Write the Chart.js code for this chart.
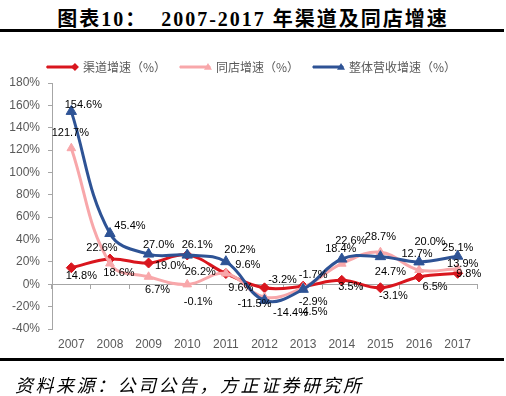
<!DOCTYPE html>
<html>
<head>
<meta charset="utf-8">
<script src="https://cdn.jsdelivr.net/npm/chart.js@4.4.0/dist/chart.umd.min.js"></script>
<style>
  html, body { margin: 0; padding: 0; background: #fff; }
  #wrap { position: relative; width: 506px; height: 396px; overflow: hidden; }
  #title {
    position: absolute; left: 0; top: 3px; width: 506px; line-height: 24px;
    text-align: center; white-space: pre; color: #000;
    font: bold 20px "Liberation Serif", "Noto Sans CJK SC", serif; letter-spacing: 2px;
  }
  .rule { position: absolute; left: 0; width: 504px; height: 3px; background: #000; }
  #src {
    position: absolute; left: 15px; top: 371px; line-height: 22px; color: #000;
    font: italic 18px "Noto Sans CJK SC", sans-serif; letter-spacing: 2.5px;
  }
  #chart { position: absolute; left: 0; top: 0; }
</style>
</head>
<body>
<div id="wrap">
  <div id="title">图表10：  2007-2017 年渠道及同店增速</div>
  <div class="rule" style="top:29px"></div>
  <canvas id="chart" width="506" height="396"></canvas>
  <div class="rule" style="top:358px"></div>
  <div id="src">资料来源：公司公告，方正证券研究所</div>
</div>
<script>
const years = ["2007","2008","2009","2010","2011","2012","2013","2014","2015","2016","2017"];

// 增速 (%)
const channelGrowth = [14.8, 22.6, 19.0, 26.2, 9.6, -3.2, -1.7, 3.5, -3.1, 6.5, 9.8];
const sameStoreGrowth = [121.7, 18.6, 6.7, -0.1, 9.6, -11.5, -2.9, 18.4, 28.7, 12.7, 13.9];
const totalGrowth = [154.6, 45.4, 27.0, 26.1, 20.2, -14.4, -4.5, 22.6, 24.7, 20.0, 25.1];

const yTicks = { min: -40, max: 180, step: 20 };

// where each value label sits relative to its point
const channelShift = [[10,8],[-8,-11],[22,3],[13,17],[22,-9],[18,-8],[10,-11],[9,7],[13,8],[16,10],[11,1]];
const sameStoreShift = [[-1,-15],[9,9],[9,13],[11,18],[15,14],[-10,7],[10,14],[-1,-15],[0,-15],[-2,-16],[5,-5]];
const totalShift = [[12,-6],[20,-8],[10,-9],[10,-10],[14,-12],[26,13],[10,23],[9,-18],[10,15],[11,-20],[0,-8]];

const RED = '#D9161E', PINK = '#F8A7AA', BLUE = '#2E5395';
const GREY = '#595959', AXIS = '#A6A6A6';
const NUM_FONT = '"Liberation Sans Narrow", "Liberation Sans", Arial, sans-serif';
const LEGEND_SHIFT = 13;

const valueLabels = {
  id: 'valueLabels',
  afterDatasetsDraw(chart) {
    const ctx = chart.ctx;
    ctx.save();
    ctx.font = '11px ' + NUM_FONT;
    ctx.fillStyle = '#000';
    ctx.textAlign = 'center';
    ctx.textBaseline = 'middle';
    chart.data.datasets.forEach((ds, i) => {
      const meta = chart.getDatasetMeta(i);
      meta.data.forEach((pt, j) => {
        const s = ds.labelShift[j];
        ctx.fillText(ds.data[j].toFixed(1) + '%', pt.x + s[0], pt.y + s[1]);
      });
    });
    ctx.restore();
  }
};

// legend sits a bit right of the canvas centre in the original; markers on legend lines
const legendTweak = {
  id: 'legendTweak',
  afterLayout(chart) {
    const lg = chart.legend;
    if (!lg) return;
    lg.left += LEGEND_SHIFT;
    lg.right += LEGEND_SHIFT;
  },
  afterDraw(chart) {
    const lg = chart.legend;
    if (!lg || !lg.legendHitBoxes) return;
    const ctx = chart.ctx;
    lg.legendItems.forEach((item, k) => {
      const hb = lg.legendHitBoxes[k];
      const ds = chart.data.datasets[item.datasetIndex];
      const x = hb.left + LEGEND_SHIFT + 15, y = hb.top + hb.height / 2;
      const r = 4;
      ctx.save();
      ctx.fillStyle = ds.borderColor;
      ctx.beginPath();
      if (ds.pointStyle === 'rectRot') {
        ctx.moveTo(x, y - r); ctx.lineTo(x + r, y); ctx.lineTo(x, y + r); ctx.lineTo(x - r, y);
      } else {
        ctx.moveTo(x, y - r); ctx.lineTo(x + r, y + r * 0.7); ctx.lineTo(x - r, y + r * 0.7);
      }
      ctx.closePath();
      ctx.fill();
      ctx.restore();
    });
  }
};

const ctx = document.getElementById('chart');

new Chart(ctx, {
  type: 'line',
  data: {
    labels: years,
    datasets: [
      {
        label: '渠道增速（%）',
        data: channelGrowth,
        labelShift: channelShift,
        borderColor: RED,
        backgroundColor: RED,
        borderWidth: 3,
        pointStyle: 'rectRot',
        pointRadius: 5,
        pointBorderWidth: 1,
        tension: 0.4,
        order: 3
      },
      {
        label: '同店增速（%）',
        data: sameStoreGrowth,
        labelShift: sameStoreShift,
        borderColor: PINK,
        backgroundColor: PINK,
        borderWidth: 3,
        pointStyle: 'triangle',
        pointRadius: 5,
        pointBorderWidth: 1,
        tension: 0.4,
        order: 2
      },
      {
        label: '整体营收增速（%）',
        data: totalGrowth,
        labelShift: totalShift,
        borderColor: BLUE,
        backgroundColor: BLUE,
        borderWidth: 3,
        pointStyle: 'triangle',
        pointRadius: 6,
        pointBorderWidth: 1,
        tension: 0.4,
        order: 1
      }
    ]
  },
  options: {
    responsive: false,
    animation: false,
    layout: { padding: { top: 47, right: 29, bottom: 37, left: 0 } },
    plugins: {
      tooltip: { enabled: false },
      legend: {
        position: 'top',
        labels: {
          boxWidth: 30,
          boxHeight: 2,
          padding: 14,
          color: GREY,
          font: { size: 12, family: '"Noto Sans CJK SC", sans-serif' },
          sort: (a, b) => a.datasetIndex - b.datasetIndex,
          generateLabels(chart) {
            const items = Chart.defaults.plugins.legend.labels.generateLabels(chart);
            items.forEach(it => { it.lineWidth = 1; });
            return items;
          }
        }
      }
    },
    scales: {
      x: {
        type: 'category',
        offset: true,
        grid: { display: false, drawTicks: false },
        border: { display: false },
        ticks: { color: GREY, padding: 8, font: { size: 12, family: NUM_FONT } },
        afterFit(scale) { scale.height = 30; }
      },
      x2: {
        type: 'category',
        position: { y: 0 },
        offset: true,
        grid: { offset: true, drawOnChartArea: false, tickLength: 4, color: AXIS },
        border: { color: AXIS, width: 1 },
        ticks: { display: false },
        afterFit(scale) { scale.height = 0; }
      },
      y: {
        min: yTicks.min,
        max: yTicks.max,
        grid: { drawOnChartArea: false, tickLength: 4, color: AXIS },
        border: { color: AXIS, width: 1 },
        ticks: {
          stepSize: yTicks.step,
          color: GREY,
          padding: 8,
          font: { size: 12, family: NUM_FONT },
          callback: v => v + '%'
        },
        afterFit(scale) { scale.width = 52; }
      }
    }
  },
  plugins: [valueLabels, legendTweak]
});
</script>
</body>
</html>
